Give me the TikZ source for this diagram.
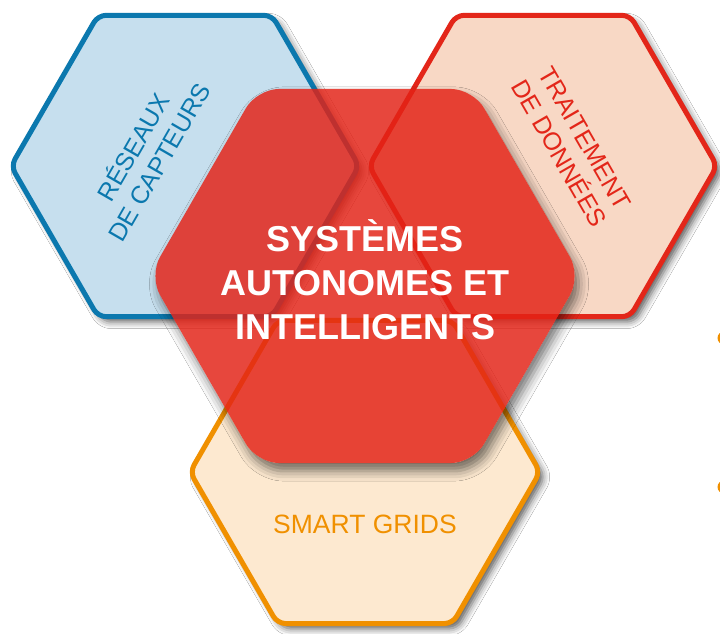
\documentclass[tikz,border=0pt]{standalone}
\usepackage{fontspec}
\setmainfont{Liberation Sans}
\usetikzlibrary{shadows.blur}
\definecolor{bluebd}{HTML}{0B78AE}
\definecolor{bluefill}{HTML}{C6DFEE}
\definecolor{redbd}{HTML}{E32619}
\definecolor{redfill}{HTML}{F8D8C5}
\definecolor{orbd}{HTML}{F09000}
\definecolor{orfill}{HTML}{FDE9D0}
\definecolor{central}{HTML}{E32216}
\newcommand{\hexat}[3]{%
  ({#1+#3},#2) -- ({#1+#3/2},{#2+#3*0.866}) -- ({#1-#3/2},{#2+#3*0.866}) -- ({#1-#3},#2)
  -- ({#1-#3/2},{#2-#3*0.866}) -- ({#1+#3/2},{#2-#3*0.866}) -- cycle}
\tikzset{
  outerhex/.style={line width=5pt, rounded corners=8pt, line join=round,
    blur shadow={shadow xshift=5pt, shadow yshift=-5pt, shadow blur radius=7pt, shadow opacity=65}},
  centershadow/.style={rounded corners=22pt,
    blur shadow={shadow xshift=4pt, shadow yshift=-8pt, shadow blur radius=10pt, shadow opacity=55}},
  centerhex/.style={fill=central, fill opacity=0.83, rounded corners=22pt},
  sidelabel/.style={font=\fontsize{25}{30}\selectfont, align=center, inner sep=0pt},
  centerlabel/.style={font=\fontsize{36}{44}\selectfont\bfseries, align=center, text=white, inner sep=0pt}
}
\begin{document}
\begin{tikzpicture}[x=1pt,y=-1pt]
\useasboundingbox (0,0) rectangle (720,634);
\fill[white] (0,0) rectangle (720,634);
% outer hexagons
\draw[outerhex, draw=bluebd, fill=bluefill] \hexat{185}{166}{174};
\coordinate (blue) at (185,166);
\draw[outerhex, draw=redbd, fill=redfill] \hexat{543}{166}{174};
\coordinate (red) at (543,166);
\draw[outerhex, draw=orbd, fill=orfill] \hexat{365}{472}{175};
\coordinate (orange) at (365,472);
% central hexagon: shadow only outside, then translucent fill
\begin{scope}[even odd rule, rounded corners=22pt]
  \clip (-20,-20) rectangle (760,660) \hexat{365}{276}{216};
  \path[centershadow] \hexat{365}{276}{216};
\end{scope}
\path[centerhex] \hexat{365}{276}{216};
\coordinate (center) at (365,276);
% labels
\node[sidelabel, text=bluebd, rotate=60] (lblue) at (145,154) {RÉSEAUX\\DE CAPTEURS};
\node[sidelabel, text=redbd, rotate=-60] (lred) at (572,146) {TRAITEMENT\\DE DONNÉES};
\node[sidelabel, text=orbd, font=\fontsize{26.5}{28}\selectfont] (lorange) at (365,524) {SMART GRIDS};
\node[centerlabel] (lcenter) at (365,280) {SYSTÈMES\\AUTONOMES ET\\INTELLIGENTS};
% dots at right edge
\coordinate (dot1) at (724,338);
\coordinate (dot2) at (724,487);
\fill[orbd] (dot1) circle (6.5);
\fill[orbd] (dot2) circle (6.5);
\end{tikzpicture}
\end{document}
